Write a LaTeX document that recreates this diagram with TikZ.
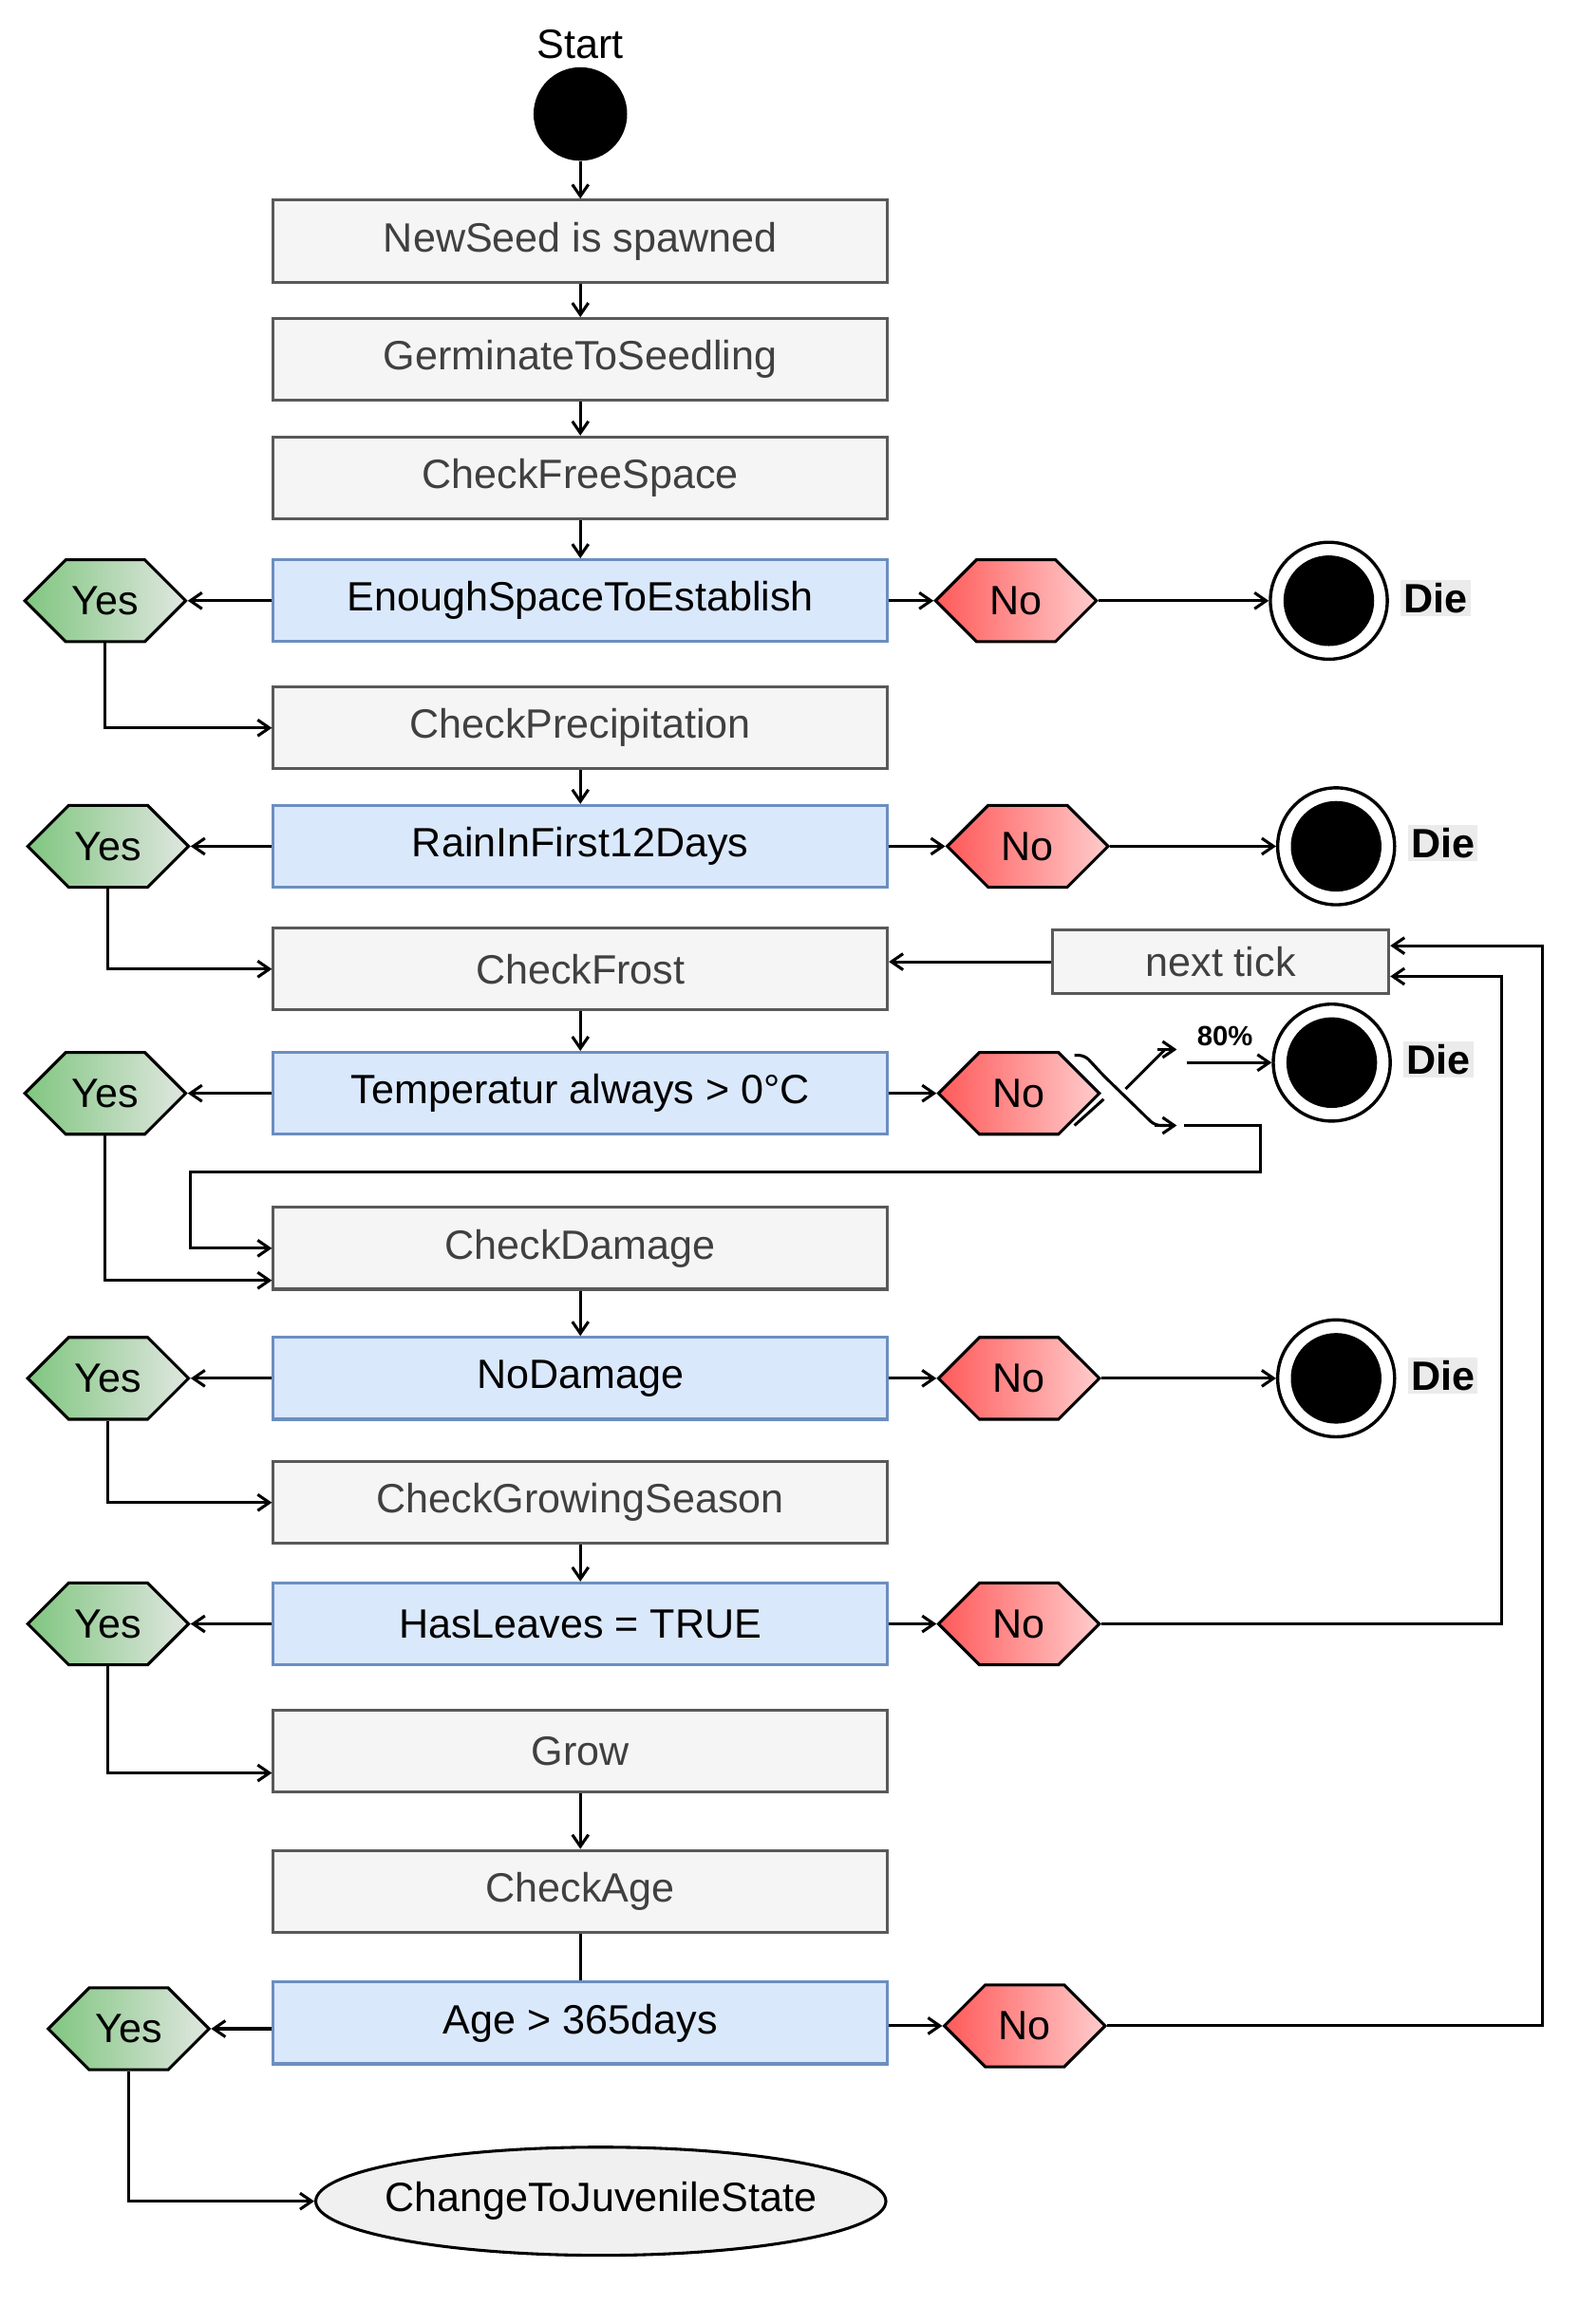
\documentclass[tikz,border=0pt]{standalone}
\usepackage{fontspec}
\setmainfont{Liberation Sans}
\usetikzlibrary{shapes.symbols,shapes.geometric,arrows.meta}
\definecolor{bfill}{HTML}{DAE8FC}
\definecolor{bdraw}{HTML}{6C8EBF}
\begin{document}
\begin{tikzpicture}[x=1pt,y=-1pt,
  every node/.style={font=\fontsize{28}{32}\selectfont},
  box/.style={draw=black!65,line width=2pt,fill=black!4,minimum width=420pt,minimum height=56pt,inner sep=0pt,text=black!75},
  dec/.style={draw=bdraw,line width=2pt,fill=bfill,minimum width=420pt,minimum height=56pt,inner sep=0pt},
  yes/.style={signal,signal to=east and west,draw,line width=2pt,left color=green!55!black!50,right color=green!20!black!12!white,minimum width=110pt,minimum height=56pt,inner sep=0pt},
  no/.style={signal,signal to=east and west,draw,line width=2pt,left color=red!65,right color=red!20,minimum width=110pt,minimum height=56pt,inner sep=0pt},
  dieo/.style={circle,draw,line width=2.2pt,fill=white,minimum size=80pt},
  diei/.style={circle,fill=black,minimum size=62pt},
  dlab/.style={fill=black!8,font=\fontsize{28}{32}\selectfont\bfseries,inner sep=2pt},
  arr/.style={-{Straight Barb[length=8pt,width=11pt]},line width=2pt},
  ln/.style={line width=2pt}]
\useasboundingbox (0,0) rectangle (1080,1590);
\node (start) at (397,30) {Start};
\node[circle,fill=black,minimum size=64pt] (s) at (397,78) {};
\node[box] (b1) at (397,165) {NewSeed is spawned};
\node[box] (b2) at (397,246) {GerminateToSeedling};
\node[box] (b3) at (397,327) {CheckFreeSpace};
\node[dec] (d1) at (397,411) {EnoughSpaceToEstablish};
\node[box] (b4) at (397,498) {CheckPrecipitation};
\node[dec] (d2) at (397,579) {RainInFirst12Days};
\node[box] (b5) at (397,663) {CheckFrost};
\node[dec] (d3) at (397,748) {Temperatur always > 0°C};
\node[box] (b6) at (397,854) {CheckDamage};
\node[dec] (d4) at (397,943) {NoDamage};
\node[box] (b7) at (397,1028) {CheckGrowingSeason};
\node[dec] (d5) at (397,1111) {HasLeaves = TRUE};
\node[box] (b8) at (397,1198) {Grow};
\node[box] (b9) at (397,1294) {CheckAge};
\node[dec] (d6) at (397,1384) {Age > 365days};
\node[ellipse,draw,line width=2pt,fill=black!6,minimum width=390pt,minimum height=74pt,inner xsep=-30pt,inner ysep=0pt] (e) at (411,1506) {ChangeToJuvenileState};
\node[box,minimum width=230pt,minimum height=44pt] (nt) at (835,658) {next tick};
% yes
\node[yes] (y1) at (72,411) {Yes};
\node[yes] (y2) at (74,579) {Yes};
\node[yes] (y3) at (72,748) {Yes};
\node[yes] (y4) at (74,943) {Yes};
\node[yes] (y5) at (74,1111) {Yes};
\node[yes] (y6) at (88,1388) {Yes};
% no
\node[no] (n1) at (695,411) {No};
\node[no] (n2) at (703,579) {No};
\node[no] (n3) at (697,748) {No};
\node[no] (n4) at (697,943) {No};
\node[no] (n5) at (697,1111) {No};
\node[no] (n6) at (701,1386) {No};
% die
\node[dieo] (k1) at (909,411) {}; \node[diei] at (k1) {};
\node[dieo] (k2) at (914,579) {}; \node[diei] at (k2) {};
\node[dieo] (k3) at (911,727) {}; \node[diei] at (k3) {};
\node[dieo] (k4) at (914,943) {}; \node[diei] at (k4) {};
\node[dlab,anchor=west] (l1) at (958,409) {Die};
\node[dlab,anchor=west] (l2) at (963,577) {Die};
\node[dlab,anchor=west] (l3) at (960,725) {Die};
\node[dlab,anchor=west] (l4) at (963,941) {Die};
% main flow
\draw[arr] (s) -- (b1);
\draw[arr] (b1) -- (b2);
\draw[arr] (b2) -- (b3);
\draw[arr] (b3) -- (d1);
\draw[arr] (b4) -- (d2);
\draw[arr] (b5) -- (d3);
\draw[arr] (b6) -- (d4);
\draw[arr] (b7) -- (d5);
\draw[arr] (b8) -- (b9);
\draw[ln] (b9) -- (d6);
\foreach \d/\y in {d1/y1,d2/y2,d3/y3,d4/y4,d5/y5}{\draw[arr] (\d.west) -- (\y.east);}
\draw[arr] (d6.west |- y6.east) -- (y6.east);
\foreach \d/\n in {d1/n1,d2/n2,d3/n3,d4/n4,d5/n5}{\draw[arr] (\d.east) -- (\n.west);}
\draw[arr] (d6.east |- n6.west) -- (n6.west);
\draw[arr] (n1.east) -- (k1);
\draw[arr] (n2.east) -- (k2);
\draw[arr] (n4.east) -- (k4);
% yes connectors
\draw[arr] (y1.south) |- (b4.west);
\draw[arr] (y2.south) |- (b5.west);
\draw[arr] (y3.south) |- ([yshift=-22pt]b6.west);
\draw[arr] (y4.south) |- (b7.west);
\draw[arr] (y5.south) |- ([yshift=-15pt]b8.west);
\draw[arr] (y6.south) |- (e.west);
% loops
\draw[arr] (nt.west) -- (b5.east |- nt.west);
\draw[arr] (n5.east) -- (1027,1111) -- (1027,668) -- ([yshift=-10pt]nt.east);
\draw[arr] (n6.east) -- (1055,1386) -- (1055,647) -- ([yshift=11pt]nt.east);
% switch
\coordinate (sw1) at (805,770);
\coordinate (sw2) at (805,718);
\coordinate (sw0) at (810,770);
\draw[ln,rounded corners=4pt] (735,722) -- (742,722) -- (755,736) -- (790,770) -- (798,770);
\draw[arr] (790,770) -- (sw1);
\draw[ln] (755,752) -- (735,770);
\draw[ln,rounded corners=4pt] (770,745) -- (792,723) -- (797,718);
\draw[arr] (792,718) -- (sw2);
\node[font=\fontsize{19}{22}\selectfont\bfseries] (p80) at (838,709) {80\%};
\coordinate (sw3) at (812,727);
\draw[arr] (sw3) -- (k3.west);
\draw[arr] (sw0) -- (862,770) -- (862,802) -- (130,802) -- (130,854) -- (b6.west);
\end{tikzpicture}
\end{document}
